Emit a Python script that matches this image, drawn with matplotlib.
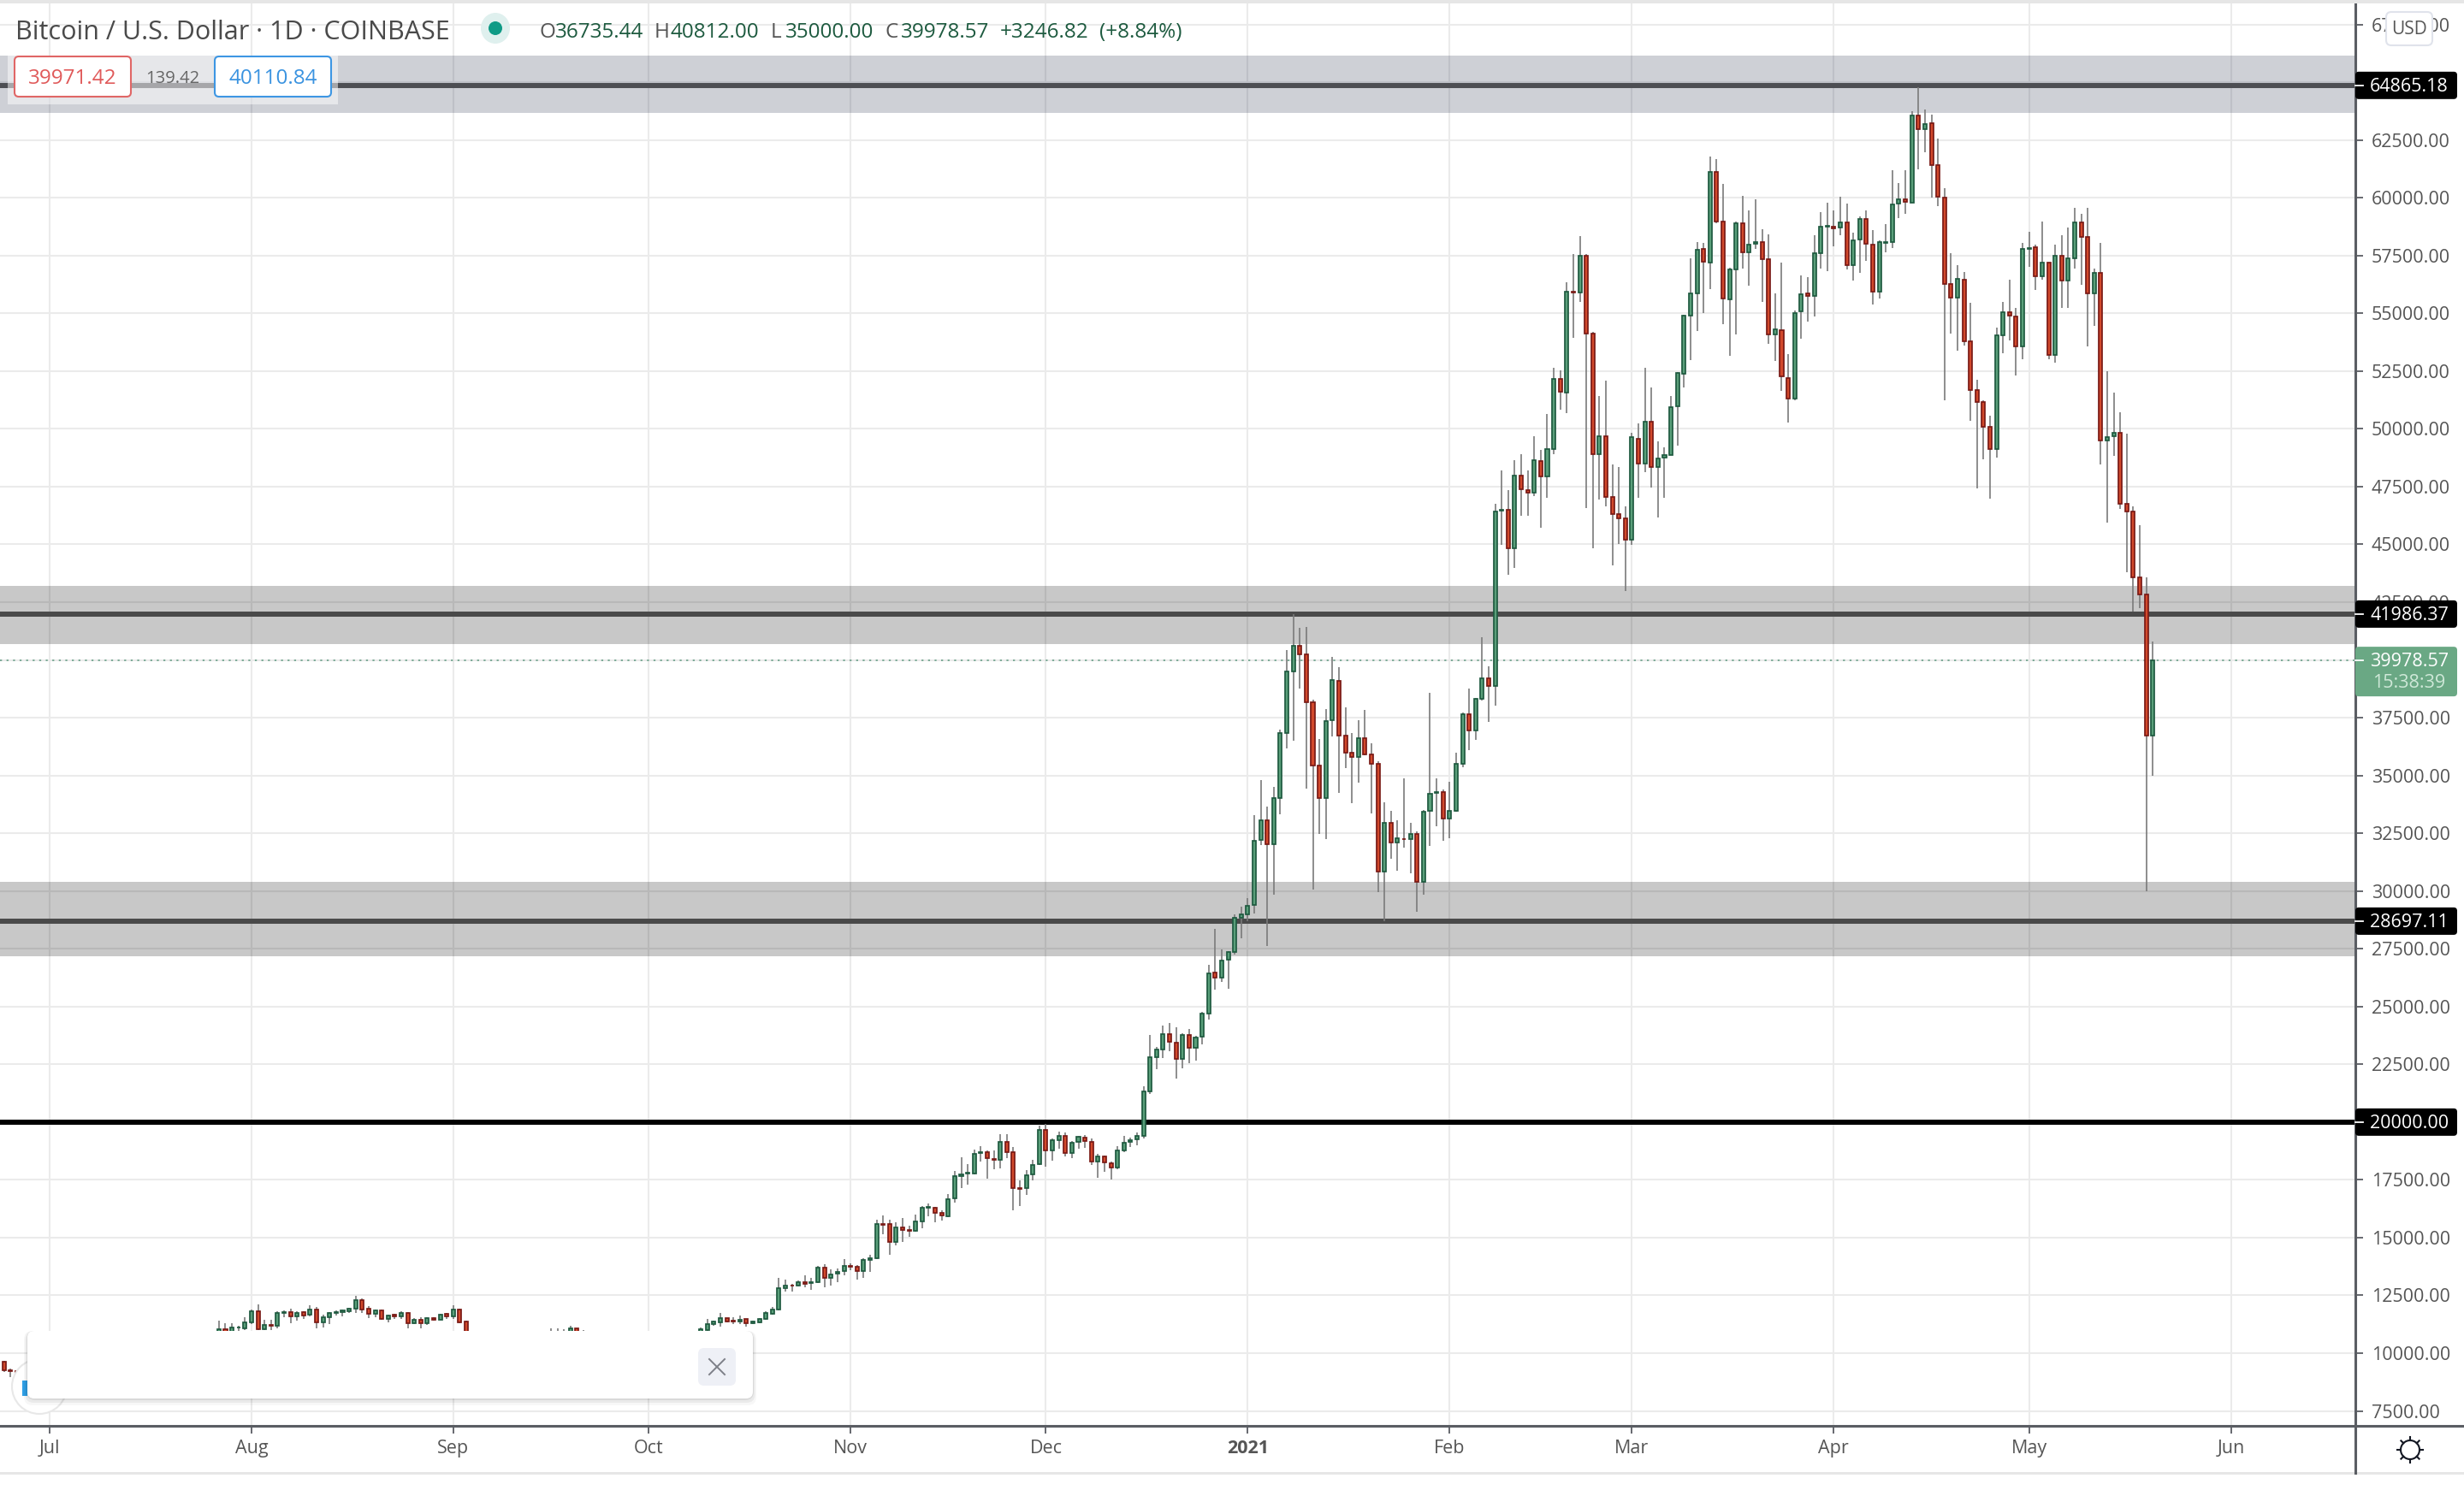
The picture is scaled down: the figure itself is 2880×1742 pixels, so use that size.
import numpy as np
import pandas as pd
import matplotlib
matplotlib.use("Agg")
import matplotlib.dates as mdates
from matplotlib import pyplot as plt
from matplotlib.patches import FancyBboxPatch, Rectangle, Circle, Ellipse

plt.rcParams['font.family'] = ['Open Sans', 'DejaVu Sans']

# Daily candles, the stretches hidden behind the popup are left out
candle_dates = (list(pd.date_range("2020-06-24", "2020-06-26"))
                + list(pd.date_range("2020-07-27", "2020-09-03"))
                + list(pd.date_range("2020-09-16", "2020-09-21"))
                + list(pd.date_range("2020-10-09", "2021-05-20")))

opens = [9617, 9260, 9240,
         10700, 11036, 10900, 11098, 11086, 11333, 11814, 11049, 11209, 11172,
         11740, 11765, 11579, 11765, 11653, 11875, 11345, 11542, 11752, 11764,
         11826, 11913, 12283, 11937, 11703, 11838, 11493, 11666, 11604, 11727,
         11296, 11431, 11296, 11518, 11456, 11703, 11604, 11900, 11357,
         10750, 10800, 10850, 10900, 11061, 10900,
         10900, 10999, 11246, 11345, 11505, 11407, 11370, 11468, 11296, 11345, 11493,
         11714, 11899, 12798, 12943, 12917, 13089, 13023, 13062, 13710, 13248,
         13433, 13538, 13763, 13750, 13538, 14027, 14120, 15587, 15574, 14807,
         15455, 15323, 15283, 15693, 16288, 16301, 16063, 15931, 16684, 17650,
         17769, 17782, 18654, 18681, 18417, 18350, 19157, 18681, 17147, 17134,
         17729, 18165, 19672, 18760, 19223, 19408, 18654, 19130, 19342, 19157,
         18284, 18522, 18218, 18020, 18787, 19130, 19236, 19421, 21338, 22805,
         23136, 23824, 23453, 22726, 23784, 23202, 23678, 24683, 26460, 26238,
         27015, 27348, 28854, 28977, 29384, 32197, 33049, 32012, 34011, 36825,
         39490, 40625, 40230, 38157, 35418, 34011, 37380, 39083, 36714, 35973,
         35788, 36603, 35899, 35492, 30828, 32963, 32086, 32259, 32234, 32481,
         30384, 33456, 34233, 34295, 33123, 33481, 35492, 37663, 36936, 38305,
         39218, 38861, 46456, 46482, 44816, 47963, 47368, 47222, 48624, 47936,
         49126, 52153, 51572, 55948, 55895, 57481, 54110, 48888, 49694, 47037,
         46297, 46138, 45186, 49589, 48491, 50316, 48333, 48743, 48875, 50963,
         52378, 54903, 55855, 57798, 57190, 61130, 58962, 55590, 56886, 58882,
         57626, 57996, 58102, 57349, 54070, 54282, 52206, 51294, 55075, 55855,
         55736, 57587, 58763, 58763, 58697, 58948, 57071, 58181, 59094, 57983,
         55921, 58060, 58072, 59738, 59935, 59799, 63563, 62958, 63217, 61403,
         60021, 56258, 55666, 56443, 53778, 51668, 51150, 50076, 49114, 54037,
         55036, 54851, 53556, 57788, 57850, 56591, 57183, 53210, 57480, 56406,
         57369, 58923, 58294, 55851, 56739, 49496, 49681, 49842, 46745, 46412,
         43564, 42849, 36735.44]

closes = [9247, 9235, 9190,
          11024, 10900, 11098, 11123, 11333, 11826, 11049, 11209, 11172, 11740,
          11765, 11579, 11752, 11641, 11875, 11345, 11542, 11752, 11777, 11838,
          11925, 12283, 11900, 11715, 11838, 11481, 11641, 11604, 11740, 11308,
          11444, 11308, 11505, 11456, 11678, 11604, 11900, 11345, 10900,
          10800, 10850, 10900, 11061, 10900, 10850,
          11024, 11271, 11370, 11505, 11370, 11370, 11456, 11308, 11370, 11493, 11727,
          11886, 12798, 12930, 12917, 13089, 13010, 13062, 13684, 13248, 13419,
          13525, 13790, 13737, 13538, 14027, 14120, 15574, 15561, 14807, 15455,
          15323, 15283, 15693, 16275, 16315, 16077, 15944, 16671, 17650, 17742,
          17795, 18641, 18681, 18443, 18350, 19157, 18694, 17134, 17121, 17716,
          18152, 19672, 18760, 19210, 19408, 18654, 19117, 19355, 19183, 18284,
          18522, 18258, 18020, 18787, 19117, 19223, 19421, 21338, 22792, 23136,
          23824, 23467, 22726, 23784, 23202, 23665, 24683, 26441, 26238, 27003,
          27348, 28854, 28977, 29372, 32185, 33049, 32012, 34011, 36825, 39490,
          40625, 40230, 38157, 35418, 34011, 37368, 39120, 36714, 35973, 35788,
          36603, 35899, 35492, 30828, 32963, 32086, 32272, 32234, 32481, 30384,
          33444, 34221, 34283, 33123, 33481, 35492, 37639, 36936, 38318, 39218,
          38861, 46416, 46482, 44816, 47963, 47381, 47222, 48663, 47936, 49139,
          52153, 51598, 55948, 55895, 57481, 54110, 48888, 49694, 47037, 46297,
          46138, 45186, 49628, 48491, 50316, 48333, 48729, 48875, 50950, 52405,
          54890, 55855, 57759, 57217, 61130, 58962, 55630, 56886, 58882, 57626,
          57983, 58089, 57336, 54070, 54321, 52259, 51294, 55022, 55842, 55736,
          57587, 58763, 58790, 58684, 58948, 57071, 58168, 59094, 57997, 55921,
          58089, 58072, 59725, 59935, 59812, 63563, 62958, 63205, 61403, 60034,
          56258, 55666, 56480, 53778, 51668, 51150, 50076, 49114, 54037, 55036,
          54901, 53556, 57776, 57837, 56591, 57183, 53210, 57480, 56406, 57369,
          58923, 58294, 55851, 56739, 49496, 49657, 49842, 46745, 46412, 43564,
          42824, 36729, 39978.57]

highs = [9679, 9334, 9260,
         11394, 11308, 11308, 11185, 11555, 11900, 12098, 11456, 11431, 11801,
         11863, 11925, 11801, 11801, 12073, 11987, 11653, 11789, 11851, 11900,
         11950, 12480, 12357, 12024, 11888, 11888, 11666, 11715, 11801, 11765,
         11530, 11555, 11555, 11555, 11715, 11752, 12073, 11925, 11394,
         11061, 11061, 11036, 11185, 11086, 11012,
         11123, 11468, 11394, 11740, 11530, 11555, 11629, 11493, 11394, 11518, 11801,
         12005, 13248, 13168, 12996, 13129, 13366, 13248, 13763, 13856, 13631,
         13671, 14067, 13895, 13803, 14094, 14252, 15786, 15944, 15773, 15654,
         15852, 15508, 15997, 16367, 16473, 16328, 16182, 16896, 17888, 18483,
         18179, 18800, 18959, 18773, 18786, 19474, 19474, 18919, 17465, 17927,
         18350, 19844, 19910, 19276, 19606, 19540, 19183, 19421, 19435, 19276,
         18615, 18549, 18284, 18945, 19408, 19315, 19540, 21536, 23771, 23242,
         24180, 24286, 24101, 23837, 24048, 23744, 24762, 26811, 28360, 27472,
         27400, 28977, 29323, 29693, 33271, 34789, 33641, 34505, 36973, 40428,
         41970, 41390, 41415, 38268, 36566, 37873, 40119, 39687, 37960, 36825,
         37380, 37836, 36393, 35615, 33826, 33456, 33049, 34875, 32938, 32568,
         33500, 38577, 34875, 34382, 34727, 35986, 37713, 38762, 38350, 40983,
         39724, 46746, 48201, 47341, 48663, 48901, 48201, 49681, 49086, 50646,
         52629, 52537, 56331, 57560, 58340, 57560, 54216, 51426, 52087, 48465,
         48359, 46641, 49827, 50223, 52629, 51796, 49456, 49192, 51439, 52450,
         54943, 57375, 58089, 58049, 61791, 61685, 60601, 56965, 58962, 60085,
         59451, 59940, 58644, 58420, 55868, 57190, 53224, 55115, 56635, 56569,
         58380, 59385, 59781, 59464, 60046, 59755, 58486, 59200, 59464, 58605,
         58155, 58849, 61181, 60626, 61181, 63748, 64800, 63822, 63600, 62551,
         60416, 57603, 57072, 56776, 55456, 52124, 51224, 50570, 54370, 55481,
         56443, 55234, 58047, 58528, 57973, 58960, 57208, 57973, 58380, 58713,
         59565, 59306, 59565, 56937, 58047, 52495, 51557, 50706, 49780, 46658,
         45835, 43564, 40812]

lows = [9186, 8964, 9087,
        10600, 10600, 10800, 10900, 10999, 11271, 10999, 10999, 10987, 11061,
        11555, 11308, 11394, 11493, 11592, 11061, 11098, 11246, 11616, 11592,
        11740, 11740, 11740, 11530, 11555, 11431, 11345, 11493, 11481, 11086,
        11246, 11086, 11234, 11394, 11431, 11493, 11493, 11308, 10800,
        10700, 10700, 10750, 10800, 10800, 10750,
        10800, 10900, 11185, 11160, 11345, 11271, 11271, 11160, 11246, 11308, 11456,
        11648, 11859, 12679, 12679, 12877, 12864, 12758, 13023, 12864, 12930,
        13089, 13380, 13591, 13195, 13261, 13499, 14080, 15151, 14265, 14675,
        14794, 15032, 15257, 15416, 15931, 15680, 15733, 15878, 16526, 17161,
        17306, 17729, 18298, 17570, 17967, 18007, 18456, 16169, 16381, 16857,
        17491, 18152, 18086, 18311, 18853, 18522, 18456, 18853, 18866, 18152,
        17597, 17861, 17531, 17967, 18707, 18919, 19011, 19276, 21232, 22303,
        22753, 23070, 21893, 22343, 22554, 22673, 23348, 24445, 25744, 26053,
        25781, 27262, 27965, 28681, 29014, 31975, 27632, 29853, 33333, 36171,
        36516, 38762, 34419, 30075, 32469, 32259, 36701, 34258, 35332, 33814,
        34690, 35862, 33370, 29964, 28706, 31408, 30890, 31889, 30779, 29113,
        29853, 31963, 32814, 32161, 32284, 33419, 35369, 36109, 36541, 38231,
        37331, 38034, 44988, 43679, 43997, 46257, 46257, 47077, 45728, 47011,
        48914, 50845, 50699, 53951, 55511, 46588, 44843, 46958, 46654, 44102,
        45028, 42979, 44988, 47024, 48134, 47473, 46178, 47024, 48850, 49285,
        51810, 52986, 54242, 55022, 56066, 58909, 54546, 53158, 54097, 56952,
        56212, 57798, 55511, 53687, 52947, 51651, 50289, 51241, 53912, 54652,
        54877, 56952, 56833, 57917, 58393, 56913, 56437, 56767, 57283, 55366,
        55657, 57652, 57837, 59133, 59318, 59775, 61243, 61983, 60021, 59651,
        51248, 54136, 53395, 53593, 50360, 47436, 48694, 46991, 48768, 53284,
        53840, 52322, 53025, 57023, 56024, 56468, 53025, 52877, 55246, 55246,
        56949, 56246, 53580, 54469, 48472, 45955, 48842, 46547, 43796, 42096,
        42244, 30000, 35000]

# Horizontal levels with the grey zones drawn around them
level_prices = [64865.18, 41986.37, 28697.11, 20000.00]
level_colors = ["#4d4e53", "#4a4a4a", "#4a4a4a", "#000000"]
zone_bottoms = [63674, 40698, 27187]
zone_tops = [66153, 43203, 30407]
zone_colors = ["#1c2544", "#000000", "#000000"]

last_price = 39978.57
countdown = "15:38:39"
bid_price = "39971.42"
spread = "139.42"
ask_price = "40110.84"

price_ticks = list(range(7500, 67501, 2500))
month_starts = ["2020-07-01", "2020-08-01", "2020-09-01", "2020-10-01", "2020-11-01", "2020-12-01",
                "2021-01-01", "2021-02-01", "2021-03-01", "2021-04-01", "2021-05-01", "2021-06-01"]
month_labels = ["Jul", "Aug", "Sep", "Oct", "Nov", "Dec", "2021", "Feb", "Mar", "Apr", "May", "Jun"]

title_text = "Bitcoin / U.S. Dollar · 1D · COINBASE"
ohlc_letters = ["O", "H", "L", "C"]
ohlc_values = ["36735.44", "40812.00", "35000.00", "39978.57"]
change_text = ["+3246.82", "(+8.84%)"]

############################

width_px = 2880
height_px = 1742
axis_right_px = 2753
axis_bottom_px = 1667
axis_top_px = 2

text_grey = "#555555"
axis_grey = "#5a5d63"
up_fill = "#5a9f7a"
up_edge = "#1f5a40"
down_fill = "#d2492c"
down_edge = "#7a1a16"
wick_grey = "#7a7a7a"
ohlc_green = "#1d5a3f"

fig = plt.figure(figsize=(width_px / 100, height_px / 100), dpi=100)
ax = fig.add_axes([0, 1 - axis_bottom_px / height_px, axis_right_px / width_px,
                   (axis_bottom_px - axis_top_px) / height_px])

x_values = mdates.date2num(candle_dates)
opens_arr = np.array(opens)
closes_arr = np.array(closes)
is_up = closes_arr >= opens_arr

ax.set_xlim(mdates.date2num(pd.Timestamp("2020-07-01")) - 7.62, mdates.date2num(pd.Timestamp("2020-07-01")) + 354.1)
ax.set_ylim(6854, 68486)

ax.set_xticks(mdates.date2num(pd.to_datetime(month_starts)))
ax.set_xticklabels(month_labels, fontsize=15.5, color=text_grey)
ax.get_xticklabels()[6].set_fontweight("bold")
ax.yaxis.tick_right()
ax.set_yticks(price_ticks)
ax.set_yticklabels(["%.2f" % p for p in price_ticks], fontsize=15.5, color=text_grey)
ax.tick_params(axis="x", length=6.5, width=1.3, color=axis_grey, pad=5)
ax.tick_params(axis="y", length=6.5, width=1.3, color=axis_grey, pad=7)
ax.grid(True, color="#ebebeb", linewidth=1.45, zorder=0)
ax.set_axisbelow(True)

for side in ["top", "left"]:
    ax.spines[side].set_visible(False)
for side in ["right", "bottom"]:
    ax.spines[side].set_color(axis_grey)
    ax.spines[side].set_linewidth(2.2)

for bottom, top, color in zip(zone_bottoms, zone_tops, zone_colors):
    ax.axhspan(bottom, top, xmax=0.9995, facecolor=color, alpha=0.215, linewidth=0, zorder=1)
for price, color in zip(level_prices, level_colors):
    ax.axhline(price, color=color, linewidth=4.3, zorder=2)
ax.axhline(last_price, color="#5f9a80", linewidth=1.1, linestyle=(0, (1.5, 3.5)), zorder=2)

# wicks first, the bodies sit on top of them
ax.vlines(x_values, lows, highs, color=wick_grey, linewidth=1.2, zorder=3)
body_bottoms = np.minimum(opens_arr, closes_arr)
body_heights = np.abs(closes_arr - opens_arr)
ax.bar(x_values[is_up], body_heights[is_up], bottom=body_bottoms[is_up], width=0.53,
       color=up_fill, edgecolor=up_edge, linewidth=1.25, zorder=4)
ax.bar(x_values[~is_up], body_heights[~is_up], bottom=body_bottoms[~is_up], width=0.53,
       color=down_fill, edgecolor=down_edge, linewidth=1.25, zorder=4)

# Everything of the screenshot's interface goes on an overlay in pixel units
ui = fig.add_axes([0, 0, 1, 1], facecolor="none")
ui.set_xlim(0, width_px)
ui.set_ylim(height_px, 0)
ui.axis("off")


def price_to_px(price):
    return height_px - ax.transData.transform((ax.get_xlim()[0], price))[1]


def rounded_box(x0, y0, x1, y1, face, edge="none", lw=0.0, radius=4, alpha=1.0, zorder=5):
    box = FancyBboxPatch((x0, y0), x1 - x0, y1 - y0, boxstyle="round,pad=0,rounding_size=%d" % radius,
                         facecolor=face, edgecolor=edge, linewidth=lw, alpha=alpha, zorder=zorder)
    ui.add_patch(box)


# top and bottom page strips, axis lines carried on under the price scale
ui.add_patch(Rectangle((0, 0), width_px, 4, facecolor="#e6e6e6", linewidth=0, zorder=5))
ui.add_patch(Rectangle((0, 1721), width_px, 3, facecolor="#e6e6e6", linewidth=0, zorder=5))
ui.plot([axis_right_px, width_px], [axis_bottom_px, axis_bottom_px], color=axis_grey, linewidth=2.2, zorder=5)
ui.plot([axis_right_px, axis_right_px], [axis_bottom_px, 1722], color=axis_grey, linewidth=2.2, zorder=5)

# header line
ui.text(18, 38, title_text, fontsize=22, color="#4a4a4a", va="center", ha="left", zorder=6)
ui.add_patch(Ellipse((579, 33), 34, 36, facecolor="#dff0ee", linewidth=0, zorder=6))
ui.add_patch(Circle((579, 33), 8, facecolor="#0f9b86", linewidth=0, zorder=7))

letter_x = [630, 765, 901, 1034]
value_x = [649, 784, 918, 1053]
for letter, value, lx, vx in zip(ohlc_letters, ohlc_values, letter_x, value_x):
    ui.text(lx, 38, letter, fontsize=17.5, color=text_grey, va="center", ha="left", zorder=6)
    ui.text(vx, 38, value, fontsize=17.5, color=ohlc_green, va="center", ha="left", zorder=6)
ui.text(1169, 38, change_text[0], fontsize=17.5, color=ohlc_green, va="center", ha="left", zorder=6)
ui.text(1285, 38, change_text[1], fontsize=17.5, color=ohlc_green, va="center", ha="left", zorder=6)

# bid / ask buttons
ui.add_patch(Rectangle((9, 65), 386, 57, facecolor="#ffffff", alpha=0.5, linewidth=0, zorder=5))
rounded_box(17, 66, 153, 113, "#ffffff", edge="#e06666", lw=1.5, radius=5, zorder=6)
rounded_box(251, 66, 387, 113, "#ffffff", edge="#3d96e3", lw=1.5, radius=5, zorder=6)
ui.text(85, 92, bid_price, fontsize=17.5, color="#e05a5a", ha="center", va="center", zorder=7)
ui.text(202, 92, spread, fontsize=14.5, color="#666666", ha="center", va="center", zorder=7)
ui.text(319, 92, ask_price, fontsize=17.5, color="#3a93e0", ha="center", va="center", zorder=7)

# price tags on the scale
for price in level_prices:
    y = price_to_px(price)
    rounded_box(2753, y - 16, 2872, y + 16, "#000000", radius=4)
    ui.plot([2753, 2762], [y, y], color="#ffffff", linewidth=1.3, zorder=6)
    ui.text(2816, y + 2, "%.2f" % price, fontsize=15.5, color="#ffffff", ha="center", va="center", zorder=6)

last_y = price_to_px(last_price)
rounded_box(2753, last_y - 16, 2872, last_y + 42, "#6aa884", radius=4)
ui.plot([2753, 2762], [last_y, last_y], color="#ffffff", linewidth=1.3, zorder=6)
ui.text(2816, last_y + 1, "%.2f" % last_price, fontsize=15.5, color="#ffffff", ha="center", va="center", zorder=6)
ui.text(2816, last_y + 26, countdown, fontsize=15.5, color="#cfe8d8", ha="center", va="center", zorder=6)

rounded_box(2789, 14, 2843, 53, "#ffffff", edge="#e0e3eb", lw=1.5, radius=6, zorder=6)
ui.text(2816, 35, "USD", fontsize=15, color=text_grey, ha="center", va="center", zorder=7)

# settings icon, a ring with eight short spokes
ui.add_patch(Circle((2817, 1695), 11, facecolor="none", edgecolor="#131722", linewidth=1.5, zorder=6))
for angle in np.arange(8) * np.pi / 4:
    ui.plot([2817 + 11 * np.cos(angle), 2817 + 15 * np.cos(angle)],
            [1695 + 11 * np.sin(angle), 1695 + 15 * np.sin(angle)], color="#131722", linewidth=1.5, zorder=6)

# the floating logo and the popup that hides part of the chart
ui.add_patch(Circle((46, 1621), 32, facecolor="#ffffff", edgecolor="#e8e8e8", linewidth=1.5, zorder=5))
ui.add_patch(Rectangle((26, 1614), 6, 18, facecolor="#2f9fe6", linewidth=0, zorder=5))
for offset, alpha in zip([8, 5, 2], [0.03, 0.05, 0.07]):
    rounded_box(32 - offset / 2, 1556, 880 + offset / 2, 1635 + offset, "#000000", radius=10, alpha=alpha, zorder=6)
rounded_box(32, 1556, 880, 1635, "#ffffff", radius=8, zorder=7)
rounded_box(816, 1576, 860, 1620, "#eef0f6", radius=7, zorder=8)
ui.plot([829, 847], [1589, 1607], color="#7d8088", linewidth=1.4, zorder=9)
ui.plot([829, 847], [1607, 1589], color="#7d8088", linewidth=1.4, zorder=9)

fig.savefig("out.png", dpi=100)
